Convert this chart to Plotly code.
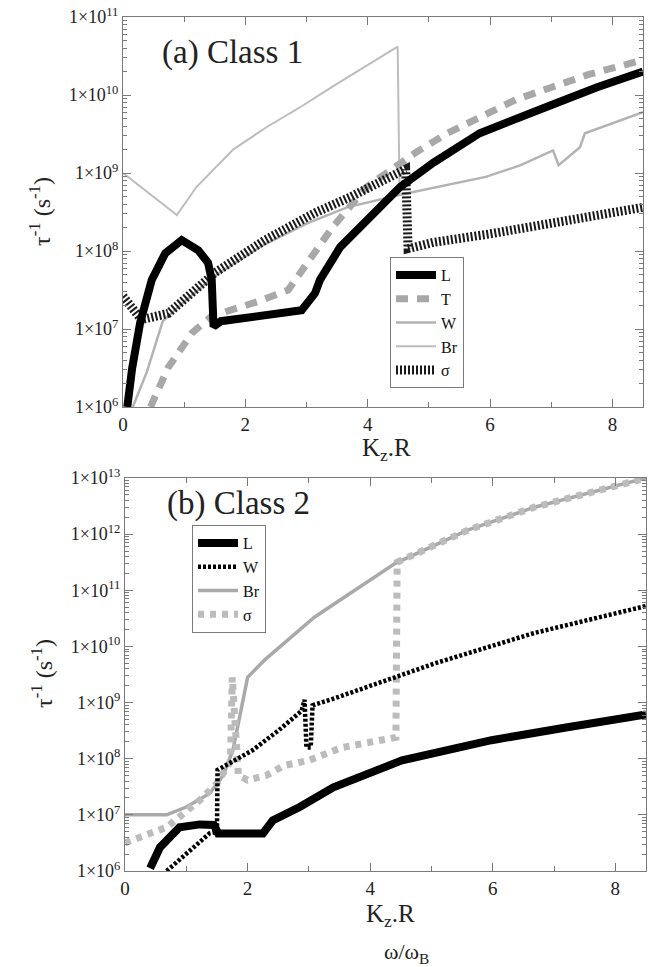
import plotly.graph_objects as go

# ---------------- Panel (a) Class 1 : x = Kz.R, y = log10(tau^-1)
a_L_x = [0.07, 0.15, 0.28, 0.47, 0.69, 0.96, 1.23, 1.39, 1.45, 1.48, 1.6, 2.0, 2.5, 2.92, 3.14, 3.22, 3.55, 3.99, 4.53, 5.07, 5.83, 6.93, 7.75, 8.5]
a_L_y = [6.0, 6.5, 7.08, 7.63, 7.97, 8.14, 8.01, 7.85, 7.63, 7.03, 7.1, 7.15, 7.2, 7.24, 7.46, 7.63, 8.05, 8.40, 8.82, 9.13, 9.51, 9.85, 10.10, 10.30]

a_T_x = [0.45, 0.74, 1.13, 1.5, 1.67, 2.2, 2.7, 3.06, 3.43, 3.98, 4.8, 5.3, 6.42, 7.6, 8.5]
a_T_y = [6.0, 6.51, 6.95, 7.2, 7.22, 7.35, 7.5, 7.9, 8.31, 8.82, 9.27, 9.51, 9.94, 10.26, 10.45]

a_W_x = [0.16, 0.39, 0.65, 1.0, 1.5, 2.3, 3.0, 3.66, 4.53, 5.0, 5.93, 6.5, 7.03, 7.12, 7.47, 7.55, 8.5]
a_W_y = [6.0, 6.45, 7.1, 7.35, 7.68, 8.08, 8.35, 8.56, 8.72, 8.8, 8.95, 9.1, 9.29, 9.10, 9.33, 9.51, 9.78]

a_Br_x = [0.0, 0.88, 1.2, 1.53, 1.8, 2.35, 2.89, 3.45, 4.0, 4.49, 4.52]
a_Br_y = [9.0, 8.46, 8.82, 9.08, 9.3, 9.59, 9.84, 10.12, 10.38, 10.62, 8.76]

a_S_x = [0.0, 0.15, 0.3, 0.74, 1.5, 2.32, 3.14, 3.71, 4.2, 4.62, 4.66, 5.07, 6.0, 7.0, 8.5]
a_S_y = [7.42, 7.25, 7.12, 7.2, 7.72, 8.14, 8.49, 8.69, 8.88, 9.05, 8.03, 8.11, 8.22, 8.35, 8.56]

# ---------------- Panel (b) Class 2
b_L_x = [0.41, 0.57, 0.89, 1.22, 1.45, 1.52, 2.25, 2.41, 2.85, 3.4, 4.52, 5.98, 7.22, 8.5]
b_L_y = [6.05, 6.42, 6.78, 6.83, 6.82, 6.67, 6.67, 6.9, 7.14, 7.49, 7.97, 8.33, 8.56, 8.79]

b_W_x = [0.68, 1.0, 1.38, 1.5, 1.51, 2.08, 2.5, 2.88, 2.93, 2.96, 3.03, 3.06, 3.43, 5.06, 6.68, 8.5]
b_W_y = [6.0, 6.31, 6.67, 6.7, 7.8, 8.15, 8.5, 8.85, 9.05, 8.2, 8.2, 8.95, 9.08, 9.70, 10.24, 10.72]

b_Br_x = [0.0, 0.68, 1.0, 1.38, 1.6, 1.76, 1.87, 1.93, 2.0, 2.28, 2.65, 3.09, 3.43, 4.41, 5.59, 6.68, 8.5]
b_Br_y = [7.0, 7.0, 7.14, 7.38, 7.7, 8.15, 8.74, 9.1, 9.45, 9.76, 10.11, 10.52, 10.77, 11.48, 12.07, 12.48, 13.0]

b_S_x = [0.0, 0.68, 1.22, 1.5, 1.72, 1.75, 1.85, 2.0, 2.3, 2.6, 3.0, 3.54, 4.42, 4.44, 5.59, 6.68, 8.5]
b_S_y = [6.5, 6.78, 7.26, 7.56, 7.95, 9.45, 7.7, 7.62, 7.7, 7.88, 7.97, 8.2, 8.38, 11.5, 12.07, 12.48, 13.0]

a_decades = [6, 7, 8, 9, 10, 11]
b_decades = [6, 7, 8, 9, 10, 11, 12, 13]
x_ticks = [0, 2, 4, 6, 8]

SERIF = "Liberation Serif, Times New Roman, serif"


def p(v):
    return [10 ** e for e in v]


fig = go.Figure()


def add(x, y, name, color, width, dash, xa, ya, leg, rank):
    fig.add_trace(go.Scatter(
        x=x, y=p(y), mode="lines", name=name,
        line=dict(color=color, width=width, dash=dash),
        xaxis=xa, yaxis=ya, legend=leg, legendrank=rank))


# panel a (draw light lines first)
add(a_Br_x, a_Br_y, "Br", "#bdbdbd", 2, "solid", "x", "y", "legend", 4)
add(a_W_x, a_W_y, "W", "#b3b3b3", 2.5, "solid", "x", "y", "legend", 3)
add(a_T_x, a_T_y, "T", "#a8a8a8", 7, "12px,9px", "x", "y", "legend", 2)
add(a_S_x, a_S_y, "σ", "#1a1a1a", 9, "2px,2px", "x", "y", "legend", 5)
add(a_L_x, a_L_y, "L", "#000000", 8, "solid", "x", "y", "legend", 1)

# panel b
add(b_Br_x, b_Br_y, "Br", "#a9a9a9", 3.5, "solid", "x2", "y2", "legend2", 3)
add(b_S_x, b_S_y, "σ", "#bcbcbc", 7, "6px,6px", "x2", "y2", "legend2", 4)
add(b_W_x, b_W_y, "W", "#000000", 4.5, "3px,2px", "x2", "y2", "legend2", 2)
add(b_L_x, b_L_y, "L", "#000000", 8, "solid", "x2", "y2", "legend2", 1)

W, H = 672, 967
axcol = "#7a7a7a"


def xaxis(dom, anchor):
    return dict(domain=dom, anchor=anchor, range=[0, 8.5], tickmode="array",
                tickvals=x_ticks,
                ticks="inside", ticklen=8, tickcolor=axcol, showline=True,
                linecolor=axcol, linewidth=1, mirror="allticks", showgrid=False,
                zeroline=False, tickfont=dict(family=SERIF, size=19, color="#222"),
                minor=dict(tickmode="linear", tick0=0, dtick=1, ticks="inside",
                           ticklen=5, tickcolor=axcol, showgrid=False),
                automargin=False)


def yaxis(dom, anchor, decs):
    return dict(domain=dom, anchor=anchor, type="log", range=[decs[0], decs[-1]],
                tickmode="array",
                tickvals=[10 ** d for d in decs],
                ticktext=["1×10<sup>%d</sup>" % d for d in decs],
                ticks="inside", ticklen=8, tickcolor=axcol, showline=True,
                linecolor=axcol, linewidth=1, mirror="allticks", showgrid=False,
                zeroline=False, tickfont=dict(family=SERIF, size=18, color="#222"),
                minor=dict(dtick="D1", ticks="inside", ticklen=4, tickcolor=axcol,
                           showgrid=False),
                automargin=False)


xd = [123 / W, 643 / W]
xd2 = [125 / W, 646 / W]
fig.update_layout(
    width=W, height=H, margin=dict(l=0, r=0, t=0, b=0),
    paper_bgcolor="white", plot_bgcolor="white",
    xaxis=xaxis(xd, "y"),
    yaxis=yaxis([1 - 407 / H, 1 - 17 / H], "x", a_decades),
    xaxis2=xaxis(xd2, "y2"),
    yaxis2=yaxis([1 - 871 / H, 1 - 478 / H], "x2", b_decades),
    legend=dict(x=390 / W, y=1 - 257 / H, xanchor="left", yanchor="top",
                bgcolor="white", bordercolor=axcol, borderwidth=1,
                font=dict(family=SERIF, size=16, color="#111"), itemwidth=40,
                tracegroupgap=0),
    legend2=dict(x=192 / W, y=1 - 525 / H, xanchor="left", yanchor="top",
                 bgcolor="white", bordercolor=axcol, borderwidth=1,
                 font=dict(family=SERIF, size=16, color="#111"), itemwidth=40,
                 tracegroupgap=0),
    showlegend=True,
)


def ann(text, x, y, size, angle=0, xanchor="center"):
    fig.add_annotation(text=text, x=x / W, y=1 - y / H, xref="paper", yref="paper",
                       showarrow=False, textangle=angle, xanchor=xanchor,
                       yanchor="middle", font=dict(family=SERIF, size=size, color="#222"))


ann("(a) Class 1", 160, 53, 33, xanchor="left")
ann("(b) Class 2", 165, 503, 33, xanchor="left")
ann("τ<sup>-1</sup> (s<sup>-1</sup>)", 40, 212, 24, angle=-90)
ann("τ<sup>-1</sup> (s<sup>-1</sup>)", 42, 674, 24, angle=-90)
ann("K<sub>z</sub>.R", 386, 450, 25)
ann("K<sub>z</sub>.R", 390, 915, 25)
ann("ω/ω<sub>B</sub>", 406, 953, 22)

fig.write_html("out.html")
